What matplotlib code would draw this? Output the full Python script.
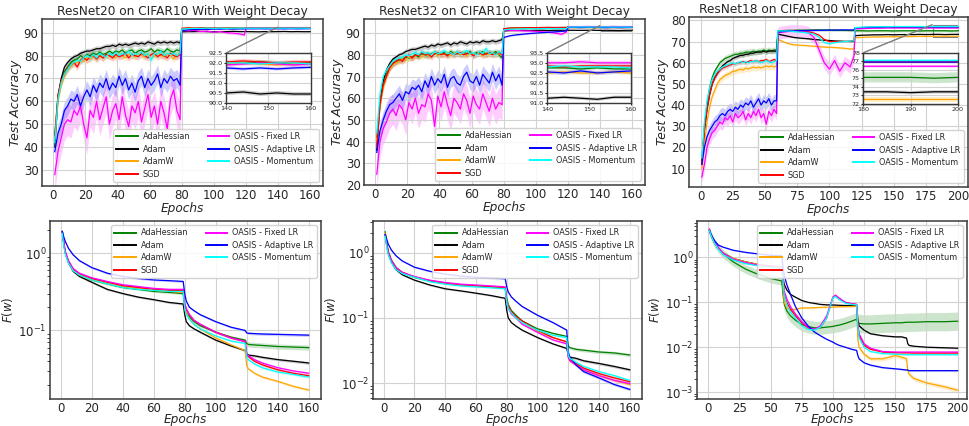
import numpy as np
import matplotlib
matplotlib.use("Agg")
import matplotlib.pyplot as plt
from matplotlib.ticker import FormatStrFormatter
from mpl_toolkits.axes_grid1.inset_locator import mark_inset

NAMES = ["AdaHessian", "Adam", "AdamW", "SGD",
         "OASIS - Fixed LR", "OASIS - Adaptive LR", "OASIS - Momentum"]
COLORS = ["green", "black", "orange", "red", "magenta", "blue", "cyan"]

ep_c10 = list(range(1, 80, 2)) + list(range(80, 117, 4)) + [119] + list(range(120, 161, 4))
ep_c100 = list(range(1, 60, 2)) + list(range(60, 117, 4)) + [119] + list(range(120, 201, 5))

# ---- ResNet20 / CIFAR10 test accuracy
r20_adahessian = [45, 62, 69, 73, 75, 77, 78, 78.5, 80, 79,
                  80.5, 80, 81, 80.5, 81.5, 80.5, 81, 82, 81, 82,
                  81.5, 82.5, 81, 82, 82.5, 81, 82, 82.5, 81.5, 82,
                  83, 81.5, 82.5, 82, 81.5, 83, 82, 81.5, 82.5, 82,
                  91.8, 92.0, 91.9, 92.1, 92.0, 91.9, 92.0, 92.1, 92.0, 91.9, 92.0,
                  92.1, 92.0, 92.05, 92.0, 92.0, 91.95, 92.0, 92.05, 92.0, 91.95, 92.0]
r20_adam = [40, 62, 70, 75, 77, 78.5, 79.5, 80, 81, 81.5,
            82, 82, 82.5, 83, 83, 83.5, 84, 84, 84.5, 84,
            85, 84.5, 85, 84.5, 85, 85.5, 85, 85.5, 85, 86,
            85.5, 85, 86, 85.5, 86, 85.5, 86, 85.5, 86, 85.5,
            90.4, 90.5, 90.5, 90.6, 90.5, 90.4, 90.5, 90.5, 90.6, 90.5, 90.5,
            90.5, 90.45, 90.4, 90.5, 90.45, 90.5, 90.55, 90.45, 90.5, 90.45, 90.45]
r20_adamw = [44, 60, 67, 71, 74, 75.5, 76.5, 77, 78, 77.5,
             79, 78.5, 79.5, 79, 80, 79, 80.5, 79.5, 80, 79,
             80.5, 80, 79, 80.5, 80, 79.5, 81, 80, 79.5, 80.5,
             80, 79.5, 81, 80, 79.5, 80.5, 80, 78.5, 80.5, 80,
             91.8, 92.0, 92.0, 91.9, 92.0, 92.0, 91.9, 92.0, 92.0, 91.9, 92.0,
             92.0, 91.95, 92.0, 91.95, 91.9, 91.95, 92.0, 91.95, 91.9, 91.95, 91.95]
r20_sgd = [45, 63, 69, 72, 74.5, 76, 77, 75, 78, 79,
           78, 79.5, 80, 78.5, 80, 79, 80.5, 80, 79, 80.5,
           79.5, 80, 81, 79, 80.5, 80, 79.5, 81, 80, 79,
           80.5, 81, 79.5, 80.5, 80, 79, 81, 80, 79.5, 80.5,
           91.9, 92.1, 92.0, 92.1, 92.0, 92.1, 92.0, 92.0, 92.1, 92.0, 92.0,
           92.05, 92.1, 92.05, 92.1, 92.05, 92.05, 92.1, 92.05, 92.0, 92.05, 92.05]
r20_fixed = [28, 38, 44, 50, 52, 51, 56, 54, 58, 50,
             44, 56, 53, 60, 52, 57, 62, 50, 56, 59,
             52, 62, 54, 49, 58, 55, 60, 51, 57, 63,
             53, 58, 50, 60, 55, 48, 61, 65, 56, 52,
             91.0, 90.8, 91.0, 90.5, 90.7, 90.2, 90.5, 90.0, 89.8, 89.5, 89.0,
             91.9, 92.0, 91.95, 92.0, 91.95, 91.9, 91.95, 92.0, 91.95, 91.9, 91.95]
r20_adaptive = [38, 46, 50, 56, 58, 61, 60, 63, 58, 62,
                65, 62, 67, 64, 68, 66, 70, 65, 68, 66,
                71, 67, 70, 65, 68, 64, 69, 71, 66, 70,
                67, 69, 72, 66, 70, 68, 71, 69, 70, 67,
                91.0, 91.3, 91.4, 91.5, 91.5, 91.6, 91.6, 91.7, 91.6, 91.7, 91.7,
                91.75, 91.7, 91.75, 91.7, 91.7, 91.75, 91.7, 91.75, 91.7, 91.75, 91.78]
r20_momentum = [42, 61, 68, 72, 74, 76, 77, 78, 77.5, 79,
                80, 79, 80.5, 79, 81, 80, 79.5, 81, 80, 81.5,
                80, 81, 80.5, 82, 80, 81, 80.5, 81.5, 80, 81,
                78, 81, 80.5, 82, 80, 81, 80.5, 81, 80, 81,
                91.6, 91.8, 91.9, 91.9, 92.0, 91.9, 92.0, 91.9, 92.0, 92.0, 92.0,
                92.0, 91.95, 92.0, 92.0, 91.95, 92.0, 92.0, 91.95, 92.0, 92.0, 91.95]

# ---- ResNet32 / CIFAR10 test accuracy
r32_adahessian = [42, 58, 66, 71, 74, 76, 77, 77.5, 78, 79,
                  78.5, 79, 80, 79, 80.5, 80, 79.5, 80.5, 81, 80,
                  80.5, 81, 80, 81.5, 80.5, 81, 80, 81, 80.5, 81.5,
                  80, 81, 80.5, 81.5, 80, 81, 80.5, 81.5, 80, 78.5,
                  92.0, 92.3, 92.4, 92.4, 92.5, 92.5, 92.5, 92.6, 92.5, 92.6, 92.6,
                  92.75, 92.75, 92.7, 92.75, 92.7, 92.75, 92.75, 92.7, 92.75, 92.7, 92.7]
r32_adam = [36, 58, 68, 73, 76, 78, 79, 80, 80.5, 81.5,
            82, 82.5, 82.5, 83, 83.5, 84, 83.5, 84.5, 84, 85,
            84.5, 85, 85.5, 84.5, 85.5, 85, 86, 85.5, 85, 86,
            85.5, 86, 85.5, 86.5, 86, 86, 86.5, 86, 86.5, 87,
            91.0, 91.2, 91.2, 91.3, 91.2, 91.3, 91.3, 91.2, 91.3, 91.3, 91.3,
            91.3, 91.3, 91.25, 91.3, 91.3, 91.25, 91.3, 91.25, 91.2, 91.3, 91.3]
r32_adamw = [40, 56, 65, 70, 73.5, 75.5, 76.5, 77, 78, 77.5,
             79, 78.5, 79.5, 80, 79, 80.5, 79.5, 80, 81, 79.5,
             80.5, 80, 81, 79.5, 80.5, 81, 80, 80.5, 79.5, 81,
             80, 80.5, 81, 79.5, 80.5, 80, 81, 80, 80.5, 80,
             91.8, 92.1, 92.2, 92.2, 92.3, 92.3, 92.3, 92.4, 92.3, 92.4, 92.4,
             92.5, 92.5, 92.55, 92.5, 92.45, 92.5, 92.55, 92.5, 92.5, 92.55, 92.5]
r32_sgd = [38, 57, 66, 70, 74, 76, 77, 78, 77, 79,
           80, 78.5, 80, 79.5, 81, 80, 80.5, 79, 80.5, 81,
           80, 80.5, 79.5, 81, 80, 80.5, 81, 80, 80.5, 81,
           79.5, 80.5, 81, 80, 80.5, 81, 80, 80.5, 81, 80,
           92.0, 92.3, 92.4, 92.4, 92.5, 92.5, 92.6, 92.6, 92.6, 92.6, 92.6,
           92.85, 92.85, 92.8, 92.85, 92.85, 92.85, 92.8, 92.85, 92.85, 92.85, 92.85]
r32_fixed = [25, 40, 46, 49, 53, 55, 52, 57, 55, 50,
             58, 55, 60, 53, 57, 56, 62, 59, 47, 61,
             56, 63, 57, 52, 60, 58, 55, 62, 59, 53,
             61, 57, 55, 62, 58, 54, 60, 55, 58, 57,
             91.5, 91.3, 91.2, 91.0, 91.0, 90.8, 90.6, 90.4, 90.0, 89.5, 90.5,
             93.0, 93.0, 93.0, 93.05, 93.0, 93.0, 93.0, 93.05, 93.0, 93.0, 93.0]
r32_adaptive = [35, 45, 50, 54, 57, 58, 60, 62, 59, 63,
                62, 65, 64, 66, 63, 68, 65, 70, 66, 69,
                67, 71, 65, 69, 70, 67, 66, 70, 72, 68,
                67, 70, 66, 71, 69, 67, 72, 68, 71, 66,
                88.0, 88.8, 89.2, 89.5, 89.8, 90.0, 90.2, 90.4, 90.6, 90.8, 91.0,
                92.55, 92.6, 92.5, 92.6, 92.65, 92.55, 92.5, 92.6, 92.5, 92.55, 92.6]
r32_momentum = [44, 62, 70, 73, 75, 77, 78, 78.5, 79, 80,
                79.5, 80.5, 81, 80, 81.5, 80.5, 81, 80, 81.5, 80.5,
                81, 82, 80.5, 81, 80, 81.5, 80.5, 81, 82, 80.5,
                81, 80, 81.5, 80.5, 83, 80.5, 81, 80, 81.5, 80.5,
                91.5, 91.8, 91.9, 92.0, 92.0, 92.0, 92.1, 92.1, 92.1, 92.1, 92.1,
                92.8, 92.8, 92.85, 92.8, 92.8, 92.8, 92.85, 92.8, 92.8, 92.8, 92.75]

# ---- ResNet18 / CIFAR100 test accuracy
r18_adahessian = [14, 30, 40, 48, 53, 56, 58, 60, 61, 62,
                  62.5, 63, 63.5, 64, 64, 64.5, 64.5, 65, 65, 65,
                  65.5, 65, 65.5, 65.5, 66, 65.5, 66, 65.5, 66, 66,
                  75, 75.2, 75.3, 75.3, 75.4, 75.4, 75.4, 75.5, 75.5, 75.4, 75.5, 75.4, 75.3, 75.3, 75.2, 75.2,
                  75.1, 75.1, 75.0, 75.1, 75.1, 75.1, 75.0, 75.1, 75.1, 75.1, 75.0, 75.1, 75.1, 75.1, 75.1, 75.0, 75.1]
r18_adam = [12, 28, 38, 45, 50, 53, 55, 57, 58.5, 59.5,
            60.5, 61, 62, 62.5, 63, 63.5, 63.5, 64, 64, 64.5,
            64.5, 65, 65, 65, 65.5, 65, 65.5, 65.5, 65.5, 65.5,
            73.5, 73, 72.5, 72, 71.7, 71.5, 71.3, 71, 70.8, 70.6, 70.5, 70.3, 70.2, 70.1, 70, 70,
            72.8, 73.0, 73.1, 73.2, 73.2, 73.3, 73.2, 73.3, 73.3, 73.3, 73.4, 73.3, 73.4, 73.4, 73.3, 73.4, 73.4]
r18_adamw = [10, 22, 32, 39, 44, 47, 50, 52, 53, 54,
             54.5, 55, 56, 56, 56.5, 57, 56.5, 57.5, 57, 57.5,
             58, 57.5, 58, 57.5, 58, 58.5, 58, 58.5, 58, 58.5,
             71, 70, 69, 68.5, 68.3, 68.2, 68, 67.8, 67.6, 67.4, 67.3, 67.2, 67, 66.8, 66.5, 66.5,
             71.8, 72.0, 72.1, 72.2, 72.2, 72.3, 72.3, 72.4, 72.4, 72.4, 72.5, 72.4, 72.5, 72.5, 72.5, 72.5, 72.5]
r18_sgd = [12, 28, 38, 45, 50, 53, 55, 56.5, 57.5, 58,
           58.5, 59, 59.5, 59.5, 60, 60, 60.5, 60, 60.5, 61,
           60.5, 61, 60.5, 61, 61, 61.5, 60.5, 61, 61.5, 61,
           74.5, 74.8, 75, 75, 75, 74.8, 74.5, 74, 73, 71, 70, 70, 70, 70, 70.2, 70.5,
           76.5, 76.6, 76.7, 76.8, 76.8, 76.8, 76.9, 76.9, 76.9, 76.9, 76.9, 76.9, 76.9, 76.9, 76.9, 76.9, 76.9]
r18_fixed = [6, 12, 20, 24, 27, 28, 30, 32, 31, 34,
             33, 35, 32, 36, 34, 35, 37, 33, 36, 34,
             37, 35, 38, 34, 36, 31, 37, 35, 38, 36,
             74, 74.5, 74.8, 75, 75, 74.8, 74, 72, 66, 60, 57, 61, 56, 60, 58, 63,
             76.0, 76.1, 76.2, 76.3, 76.3, 76.4, 76.4, 76.4, 76.4, 76.4, 76.4, 76.4, 76.4, 76.4, 76.4, 76.4, 76.4]
r18_adaptive = [12, 20, 25, 28, 30, 32, 33, 35, 36, 35,
                37, 38, 37, 39, 38, 40, 39, 41, 40, 42,
                39, 41, 43, 40, 42, 41, 43, 40, 42, 42,
                74.5, 74.8, 75, 75, 75.1, 75.2, 75.2, 75.3, 75.3, 75.4, 75.4, 75.4, 75.5, 75.5, 75.5, 75.5,
                76.5, 76.6, 76.7, 76.8, 76.8, 76.9, 76.9, 76.9, 76.9, 76.9, 76.9, 76.9, 76.9, 76.9, 76.9, 76.9, 76.9]
r18_momentum = [15, 32, 42, 48, 52, 54.5, 56, 57, 58, 58.5,
                59, 59.5, 60, 59.5, 60, 60.5, 60, 60.5, 60, 60.5,
                60.5, 61, 60.5, 60, 60.5, 61, 60.5, 60, 60.5, 61,
                75, 75, 75, 74.8, 74.5, 74.3, 74, 73.5, 72, 69.5, 69, 69.5, 69.8, 70, 70.2, 70.3,
                76.6, 76.8, 76.9, 77.0, 77.0, 77.0, 77.1, 77.1, 77.1, 77.1, 77.1, 77.1, 77.1, 77.1, 77.1, 77.1, 77.1]

# spread of the shaded bands (before 1st drop, between drops, after 2nd drop)
band_r20 = [(1.5, 0.15, 0.1), (1.2, 0.15, 0.1), (1.5, 0.15, 0.1), (1.5, 0.15, 0.1),
            (7, 0.6, 0.1), (4, 0.15, 0.08), (1.5, 0.15, 0.08)]
band_r32 = [(1.5, 0.15, 0.08), (1.2, 0.15, 0.08), (1.5, 0.15, 0.1), (1.5, 0.15, 0.08),
            (7, 0.6, 0.1), (4, 0.3, 0.1), (1.5, 0.15, 0.08)]
band_r18 = [(1.5, 0.5, 0.6), (1.0, 0.3, 0.2), (1.5, 0.4, 0.3), (1.0, 0.3, 0.15),
            (3, 3, 0.15), (3, 0.3, 0.15), (1.0, 0.3, 0.15)]

# ---- training loss F(w)
ep_loss_c10 = [1, 2, 3, 5, 8, 12, 20, 30, 40, 50, 60, 70, 79, 80, 81, 83, 86, 90,
               100, 110, 119, 120, 121, 125, 130, 140, 150, 160]
ep_loss_c100 = [1, 2, 3, 5, 8, 12, 20, 30, 40, 50, 59, 60, 61, 63, 66, 70, 75, 80, 85, 90,
                95, 100, 102, 105, 110, 115, 119, 120, 121, 125, 130, 140, 150, 155, 159,
                160, 161, 165, 175, 190, 200]

l20_adahessian = [1.9, 1.3, 1.0, 0.75, 0.6, 0.52, 0.45, 0.4, 0.36, 0.34,
                  0.32, 0.31, 0.30, 0.2, 0.17, 0.15, 0.13, 0.115, 0.095, 0.082,
                  0.075, 0.068, 0.066, 0.065, 0.064, 0.062, 0.061, 0.06]
l20_adam = [1.9, 1.3, 1.0, 0.75, 0.58, 0.5, 0.42, 0.34, 0.3, 0.27,
            0.25, 0.23, 0.22, 0.16, 0.13, 0.115, 0.105, 0.095, 0.075, 0.063,
            0.055, 0.05, 0.048, 0.047, 0.045, 0.042, 0.04, 0.038]
l20_adamw = [1.9, 1.3, 1.0, 0.76, 0.6, 0.52, 0.45, 0.4, 0.37, 0.35,
             0.33, 0.32, 0.31, 0.2, 0.17, 0.14, 0.12, 0.105, 0.08, 0.065,
             0.055, 0.035, 0.032, 0.028, 0.025, 0.022, 0.019, 0.017]
l20_sgd = [1.9, 1.3, 1.0, 0.78, 0.62, 0.54, 0.47, 0.42, 0.38, 0.36,
           0.34, 0.33, 0.33, 0.22, 0.19, 0.16, 0.135, 0.12, 0.095, 0.08,
           0.072, 0.05, 0.046, 0.04, 0.036, 0.031, 0.028, 0.026]
l20_fixed = [1.9, 1.35, 1.05, 0.8, 0.63, 0.55, 0.48, 0.43, 0.39, 0.37,
             0.35, 0.34, 0.34, 0.22, 0.19, 0.16, 0.135, 0.12, 0.095, 0.08,
             0.072, 0.05, 0.047, 0.042, 0.038, 0.033, 0.03, 0.028]
l20_adaptive = [1.9, 1.6, 1.4, 1.15, 0.95, 0.8, 0.65, 0.55, 0.5, 0.47,
                0.45, 0.44, 0.43, 0.3, 0.24, 0.2, 0.18, 0.16, 0.13, 0.11,
                0.1, 0.093, 0.092, 0.091, 0.09, 0.089, 0.088, 0.087]
l20_momentum = [1.8, 1.2, 0.95, 0.74, 0.59, 0.52, 0.45, 0.4, 0.36, 0.34,
                0.33, 0.32, 0.32, 0.19, 0.16, 0.14, 0.12, 0.105, 0.085, 0.073,
                0.068, 0.045, 0.042, 0.037, 0.033, 0.029, 0.027, 0.025]

l32_adahessian = [2.1, 1.4, 1.05, 0.78, 0.6, 0.5, 0.42, 0.37, 0.34, 0.32,
                  0.31, 0.3, 0.29, 0.2, 0.16, 0.13, 0.11, 0.09, 0.068, 0.058,
                  0.052, 0.037, 0.035, 0.033, 0.032, 0.03, 0.029, 0.027]
l32_adam = [1.9, 1.3, 0.98, 0.72, 0.55, 0.46, 0.38, 0.32, 0.28, 0.26,
            0.24, 0.22, 0.2, 0.13, 0.1, 0.085, 0.075, 0.065, 0.05, 0.04,
            0.034, 0.027, 0.025, 0.024, 0.022, 0.02, 0.018, 0.016]
l32_adamw = [2.0, 1.35, 1.0, 0.75, 0.58, 0.5, 0.42, 0.37, 0.34, 0.32,
             0.31, 0.3, 0.29, 0.18, 0.15, 0.12, 0.1, 0.085, 0.062, 0.05,
             0.043, 0.025, 0.022, 0.019, 0.016, 0.013, 0.011, 0.0095]
l32_sgd = [1.9, 1.3, 1.0, 0.75, 0.58, 0.5, 0.43, 0.37, 0.34, 0.32,
           0.31, 0.3, 0.29, 0.18, 0.15, 0.125, 0.105, 0.09, 0.065, 0.05,
           0.043, 0.026, 0.023, 0.02, 0.017, 0.014, 0.012, 0.0105]
l32_fixed = [1.9, 1.3, 1.0, 0.76, 0.59, 0.5, 0.43, 0.38, 0.35, 0.33,
             0.32, 0.31, 0.3, 0.17, 0.14, 0.115, 0.1, 0.08, 0.06, 0.046,
             0.04, 0.025, 0.022, 0.019, 0.016, 0.013, 0.011, 0.0098]
l32_adaptive = [1.9, 1.6, 1.35, 1.1, 0.9, 0.75, 0.6, 0.52, 0.47, 0.44,
                0.42, 0.41, 0.4, 0.3, 0.25, 0.21, 0.18, 0.15, 0.11, 0.085,
                0.065, 0.03, 0.025, 0.019, 0.015, 0.012, 0.0095, 0.008]
l32_momentum = [1.8, 1.2, 0.92, 0.7, 0.55, 0.48, 0.42, 0.36, 0.33, 0.31,
                0.3, 0.29, 0.28, 0.17, 0.14, 0.12, 0.1, 0.085, 0.065, 0.054,
                0.05, 0.027, 0.024, 0.021, 0.018, 0.015, 0.013, 0.011]

l18_adahessian = [4.0, 3.3, 2.8, 2.1, 1.6, 1.2, 0.8, 0.55, 0.42, 0.34,
                  0.3, 0.15, 0.09, 0.065, 0.05, 0.04, 0.032, 0.029, 0.027, 0.027,
                  0.028, 0.029, 0.03, 0.031, 0.034, 0.038, 0.042, 0.036, 0.034, 0.033,
                  0.033, 0.034, 0.035, 0.035, 0.036, 0.036, 0.036, 0.036, 0.037, 0.037, 0.038]
l18_adam = [4.0, 3.3, 2.9, 2.2, 1.6, 1.25, 0.95, 0.8, 0.7, 0.64,
            0.6, 0.35, 0.25, 0.19, 0.15, 0.13, 0.11, 0.1, 0.095, 0.09,
            0.088, 0.087, 0.087, 0.086, 0.085, 0.085, 0.083, 0.04, 0.03, 0.024,
            0.02, 0.018, 0.017, 0.017, 0.016, 0.012, 0.011, 0.0105, 0.01, 0.0097, 0.0095]
l18_adamw = [4.0, 3.4, 2.9, 2.2, 1.6, 1.25, 0.95, 0.8, 0.7, 0.63,
             0.6, 0.2, 0.1, 0.075, 0.068, 0.07, 0.075, 0.075, 0.076, 0.077,
             0.078, 0.078, 0.079, 0.08, 0.08, 0.081, 0.082, 0.015, 0.01, 0.007,
             0.0055, 0.0055, 0.0065, 0.006, 0.0055, 0.003, 0.0025, 0.002, 0.0016, 0.0013, 0.0011]
l18_sgd = [4.2, 3.4, 2.9, 2.2, 1.6, 1.2, 0.9, 0.75, 0.67, 0.62,
           0.6, 0.3, 0.15, 0.1, 0.07, 0.05, 0.035, 0.027, 0.025, 0.028,
           0.045, 0.13, 0.14, 0.12, 0.1, 0.093, 0.09, 0.03, 0.018, 0.011,
           0.009, 0.0078, 0.0075, 0.0075, 0.0075, 0.0075, 0.0075, 0.0074, 0.0074, 0.0074, 0.0074]
l18_fixed = [4.3, 3.5, 3.0, 2.3, 1.7, 1.25, 0.92, 0.77, 0.68, 0.63,
             0.61, 0.35, 0.18, 0.12, 0.08, 0.055, 0.037, 0.028, 0.025, 0.03,
             0.05, 0.13, 0.145, 0.125, 0.1, 0.093, 0.09, 0.03, 0.02, 0.012,
             0.0095, 0.008, 0.0078, 0.0078, 0.0078, 0.0078, 0.0078, 0.0078, 0.0078, 0.0078, 0.0078]
l18_adaptive = [4.0, 3.4, 3.0, 2.4, 1.9, 1.7, 1.45, 1.3, 1.2, 1.12,
                1.1, 0.6, 0.4, 0.25, 0.15, 0.08, 0.045, 0.03, 0.022, 0.018,
                0.015, 0.013, 0.012, 0.011, 0.01, 0.009, 0.0085, 0.0065, 0.0055, 0.0045,
                0.004, 0.0035, 0.0033, 0.0032, 0.0031, 0.0031, 0.003, 0.003, 0.003, 0.003, 0.003]
l18_momentum = [4.0, 3.3, 2.8, 2.1, 1.55, 1.15, 0.88, 0.73, 0.65, 0.6,
                0.58, 0.3, 0.14, 0.09, 0.06, 0.045, 0.03, 0.025, 0.024, 0.028,
                0.045, 0.125, 0.135, 0.115, 0.095, 0.09, 0.088, 0.028, 0.016, 0.01,
                0.008, 0.0072, 0.007, 0.0069, 0.0068, 0.0068, 0.0068, 0.0068, 0.0068, 0.0068, 0.0068]

# relative band spread for the loss curves
lband_r20 = [(0.03, 0.04, 0.08)] + [(0.03, 0.03, 0.04)] * 6
lband_r32 = [(0.03, 0.04, 0.06)] + [(0.03, 0.03, 0.05)] * 6
lband_r18 = [(0.25, 0.4, 0.6), (0.03, 0.03, 0.04), (0.03, 0.05, 0.12), (0.03, 0.03, 0.04),
             (0.03, 0.03, 0.04), (0.03, 0.03, 0.04), (0.03, 0.03, 0.04)]

TXT = "#262626"
plt.rcParams.update({
    "font.family": "DejaVu Sans",
    "font.size": 8.5,
    "text.color": TXT,
    "axes.labelcolor": TXT,
    "xtick.color": TXT,
    "ytick.color": TXT,
    "axes.edgecolor": "#3a3a3a",
    "axes.linewidth": 1.1,
    "grid.color": "#d2d2d2",
    "grid.linewidth": 0.8,
    "xtick.major.size": 0,
    "ytick.major.size": 0,
    "ytick.minor.size": 2,
    "xtick.major.pad": 2,
    "ytick.major.pad": 2.5,
})

LEG = dict(ncol=2, fontsize=5.9, handlelength=2.6, handletextpad=0.6,
           columnspacing=2.2, labelspacing=0.42, framealpha=0.85, edgecolor="#cccccc")


def spread(ep, b, breaks):
    ep = np.asarray(ep)
    return np.select([ep < breaks[0], ep < breaks[1]], [b[0], b[1]], b[2])


def add_legend(ax, loc):
    leg = ax.legend(loc=loc, **LEG)
    for h in leg.legend_handles:
        h.set_linewidth(1.4)


def acc_panel(ax, ep, series, bands, breaks, title, ylim, yticks, xlim, xticks,
              ins_pos, ins_x, ins_y, ins_yticks):
    ep = np.array(ep)
    axins = ax.inset_axes(ins_pos)
    for a in (ax, axins):
        for name, c, y, b in zip(NAMES, COLORS, series, bands):
            y = np.array(y)
            s = spread(ep, b, breaks)
            a.fill_between(ep, y - s, y + s, color=c, alpha=0.2, lw=0)
            a.plot(ep, y, color=c, lw=0.9, label=name)
    ax.set_ylim(ylim)
    ax.set_yticks(yticks)
    ax.set_xlim(xlim)
    ax.set_xticks(xticks)
    ax.grid(True)
    ax.set_title(title, fontsize=8.7, pad=3)
    ax.set_xlabel("Epochs", style="italic", fontsize=8.7, labelpad=0)
    ax.set_ylabel("Test Accuracy", style="italic", fontsize=9, labelpad=1)
    ax.tick_params(labelsize=8.5)
    add_legend(ax, "lower right")
    axins.set_xlim(ins_x)
    axins.set_ylim(ins_y)
    axins.set_yticks(ins_yticks)
    axins.set_xticks([ins_x[0], (ins_x[0] + ins_x[1]) / 2, ins_x[1]])
    axins.tick_params(labelsize=4.6, length=1.5, pad=1)
    if ins_yticks[1] - ins_yticks[0] < 1:
        axins.yaxis.set_major_formatter(FormatStrFormatter("%.1f"))
    axins.grid(True)
    for sp in axins.spines.values():
        sp.set_linewidth(1.0)
    mark_inset(ax, axins, loc1=2, loc2=2, fc="none", ec="0.5", lw=0.8)


def loss_panel(ax, ep, series, bands, breaks, ylim, xlim, xticks):
    ep = np.array(ep)
    for name, c, y, b in zip(NAMES, COLORS, series, bands):
        y = np.array(y)
        f = spread(ep, b, breaks)
        ax.fill_between(ep, y / (1 + f), y * (1 + f), color=c, alpha=0.2, lw=0)
        ax.plot(ep, y, color=c, lw=0.9, label=name)
    ax.set_yscale("log")
    ax.set_ylim(ylim)
    ax.set_xlim(xlim)
    ax.set_xticks(xticks)
    ax.grid(True, which="major")
    ax.set_xlabel("Epochs", style="italic", fontsize=8.7, labelpad=-1)
    ax.set_ylabel(r"$F(w)$", fontsize=8.5, labelpad=2)
    ax.tick_params(labelsize=8.5)
    add_legend(ax, "upper right")


fig = plt.figure(figsize=(9.69, 4.26), dpi=100)
W, H = 969, 426


def px_axes(l, t, r, b):
    return fig.add_axes([l / W, 1 - b / H, (r - l) / W, (b - t) / H])


ax1 = px_axes(42, 19, 323, 186)
ax2 = px_axes(364, 19, 645, 185)
ax3 = px_axes(689, 17, 968, 187)
bx1 = px_axes(50, 221, 321, 399)
bx2 = px_axes(373, 221, 642, 399)
bx3 = px_axes(697, 221, 967, 399)

acc_panel(ax1, ep_c10,
          [r20_adahessian, r20_adam, r20_adamw, r20_sgd, r20_fixed, r20_adaptive, r20_momentum],
          band_r20, (80, 120), "ResNet20 on CIFAR10 With Weight Decay",
          (23, 96), range(30, 91, 10), (-6.95, 167.95), range(0, 161, 20),
          [0.656, 0.497, 0.30, 0.30], (140, 160), (90.0, 92.5), np.arange(90.0, 92.6, 0.5))

acc_panel(ax2, ep_c10,
          [r32_adahessian, r32_adam, r32_adamw, r32_sgd, r32_fixed, r32_adaptive, r32_momentum],
          band_r32, (80, 120), "ResNet32 on CIFAR10 With Weight Decay",
          (20, 96.5), range(20, 91, 10), (-6.95, 167.95), range(0, 161, 20),
          [0.653, 0.492, 0.296, 0.305], (140, 160), (91.0, 93.5), np.arange(91.0, 93.6, 0.5))

acc_panel(ax3, ep_c100,
          [r18_adahessian, r18_adam, r18_adamw, r18_sgd, r18_fixed, r18_adaptive, r18_momentum],
          band_r18, (60, 120), "ResNet18 on CIFAR100 With Weight Decay",
          (1.3, 81.6), range(10, 81, 10), (-8.95, 207.5), range(0, 201, 25),
          [0.625, 0.49, 0.338, 0.30], (180, 200), (72, 78), range(72, 79, 1))

loss_panel(bx1, ep_loss_c10,
           [l20_adahessian, l20_adam, l20_adamw, l20_sgd, l20_fixed, l20_adaptive, l20_momentum],
           lband_r20, (80, 120), (0.013, 2.6), (-6.95, 167.95), range(0, 161, 20))
loss_panel(bx2, ep_loss_c10,
           [l32_adahessian, l32_adam, l32_adamw, l32_sgd, l32_fixed, l32_adaptive, l32_momentum],
           lband_r32, (80, 120), (0.0057, 3.07), (-6.95, 167.95), range(0, 161, 20))
loss_panel(bx3, ep_loss_c100,
           [l18_adahessian, l18_adam, l18_adamw, l18_sgd, l18_fixed, l18_adaptive, l18_momentum],
           lband_r18, (60, 120), (0.0007, 6.5), (-8.95, 207.5), range(0, 201, 25))

fig.savefig("out.png", dpi=100)
